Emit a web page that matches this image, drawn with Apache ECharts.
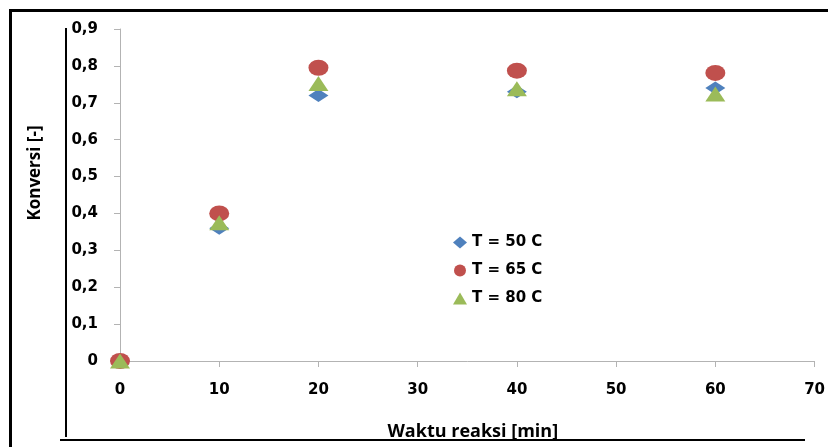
<!DOCTYPE html>
<html>
<head>
<meta charset="utf-8">
<script src="https://cdn.jsdelivr.net/npm/echarts@6/dist/echarts.min.js"></script>
<style>html,body{margin:0;padding:0;background:#fff;}#c{width:828px;height:447px;}</style>
</head>
<body>
<div id="c"></div>
<script>
const waktu = [0, 10, 20, 40, 60];
const t50 = [0, 0.36, 0.72, 0.73, 0.74];
const t65 = [0, 0.40, 0.795, 0.787, 0.781];
const t80 = [0, 0.375, 0.752, 0.738, 0.724];
const seriesNames = ['T = 50 C', 'T = 65 C', 'T = 80 C'];
const xTicks = [0, 10, 20, 30, 40, 50, 60, 70];
const yTicks = [0, 0.1, 0.2, 0.3, 0.4, 0.5, 0.6, 0.7, 0.8, 0.9];

const pairs = v => waktu.map((x, i) => [x, v[i]]);
const chart = echarts.init(document.getElementById('c'), null, {renderer: 'canvas'});
const tickFont = {fontFamily: 'DejaVu Sans', fontWeight: 'bold', fontSize: 15, color: '#000'};
const titleFont = {fontFamily: 'Open Sans', fontWeight: 'bold', color: '#000'};
chart.setOption({
  animation: false,
  backgroundColor: '#fff',
  grid: {left: 120, right: 13, top: 29, bottom: 86},
  xAxis: {
    type: 'value', min: xTicks[0], max: xTicks[xTicks.length - 1], interval: 10,
    axisLine: {show: true, onZero: false, lineStyle: {color: '#b3b3b3', width: 1}},
    axisTick: {show: true, length: 6, lineStyle: {color: '#b3b3b3'}},
    splitLine: {show: false},
    axisLabel: Object.assign({margin: 22, showMaxLabel: true}, tickFont),
    name: 'Waktu reaksi [min]', nameLocation: 'middle', nameGap: 62,
    nameTextStyle: Object.assign({padding: [0, 0, 0, 11], fontSize: 18}, titleFont)
  },
  yAxis: {
    type: 'value', min: yTicks[0], max: yTicks[yTicks.length - 1], interval: 0.1,
    axisLine: {show: true, lineStyle: {color: '#b3b3b3', width: 1}},
    axisTick: {show: true, length: 6, lineStyle: {color: '#b3b3b3'}},
    splitLine: {show: false},
    axisLabel: Object.assign({margin: 22, formatter: v => (Math.round(v * 10) / 10).toString().replace('.', ',')}, tickFont),
    name: 'Konversi [-]', nameLocation: 'middle', nameGap: 76, nameRotate: 90,
    nameTextStyle: Object.assign({padding: [0, 0, 0, 44], fontSize: 17}, titleFont)
  },
  legend: {
    orient: 'vertical', left: 453, top: 235, padding: 0, itemWidth: 14, itemHeight: 12, itemGap: 13,
    textStyle: {fontFamily: 'DejaVu Sans', fontWeight: 'bold', fontSize: 15, color: '#000'},
    data: seriesNames
  },
  graphic: [
    {type: 'rect', shape: {x: 9, y: 9, width: 819, height: 3}, style: {fill: '#000'}, silent: true},
    {type: 'rect', shape: {x: 9, y: 9, width: 3, height: 438}, style: {fill: '#000'}, silent: true},
    {type: 'rect', shape: {x: 65, y: 28, width: 2, height: 409}, style: {fill: '#000'}, silent: true},
    {type: 'rect', shape: {x: 60, y: 439, width: 745, height: 2}, style: {fill: '#000'}, silent: true}
  ],
  series: [
    {name: seriesNames[0], type: 'scatter', symbol: 'diamond', symbolSize: [20, 13], itemStyle: {color: '#4F81BD', opacity: 1}, data: pairs(t50)},
    {name: seriesNames[1], type: 'scatter', symbol: 'circle', symbolSize: [20, 16], itemStyle: {color: '#C0504D', opacity: 1}, data: pairs(t65)},
    {name: seriesNames[2], type: 'scatter', symbol: 'triangle', symbolSize: [20, 15], itemStyle: {color: '#9BBB59', opacity: 1}, data: pairs(t80)}
  ]
});
</script>
</body>
</html>
